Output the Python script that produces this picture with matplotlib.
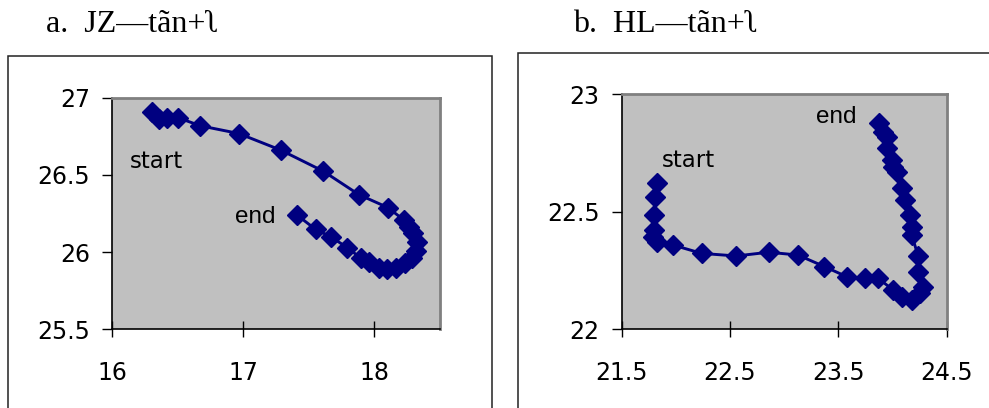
import matplotlib
matplotlib.use("Agg")
import matplotlib.pyplot as plt
from matplotlib.patches import Rectangle

# ---- data ----
jz_x = [16.306, 16.357, 16.420, 16.502, 16.675, 16.968, 17.287, 17.613, 17.885,
        18.107, 18.229, 18.270, 18.300, 18.330, 18.318, 18.290, 18.240, 18.166,
        18.102, 18.038, 17.962, 17.898, 17.796, 17.669, 17.554, 17.414]
jz_y = [26.910, 26.861, 26.871, 26.871, 26.818, 26.768, 26.661, 26.524, 26.372,
        26.288, 26.207, 26.160, 26.125, 26.068, 26.005, 25.960, 25.928, 25.900,
        25.892, 25.896, 25.939, 25.962, 26.029, 26.100, 26.147, 26.239]

hl_x = [21.823, 21.807, 21.798, 21.798, 21.792, 21.829, 21.971, 22.239, 22.558,
        22.857, 23.128, 23.372, 23.578, 23.747, 23.869, 24.008, 24.085, 24.178,
        24.254, 24.285, 24.239, 24.239, 24.178, 24.178, 24.162, 24.116, 24.085,
        24.039, 24.008, 23.993, 23.947, 23.947, 23.916, 23.879]
hl_y = [22.621, 22.564, 22.486, 22.423, 22.394, 22.373, 22.359, 22.323, 22.312,
        22.328, 22.316, 22.267, 22.224, 22.217, 22.217, 22.167, 22.139, 22.125,
        22.153, 22.181, 22.245, 22.312, 22.401, 22.437, 22.486, 22.550, 22.600,
        22.671, 22.692, 22.720, 22.770, 22.820, 22.841, 22.877]

jz_xticks = [16, 17, 18]
jz_yticks = [25.5, 26, 26.5, 27]
jz_xticklabels = ["16", "17", "18"]
jz_yticklabels = ["25.5", "26", "26.5", "27"]
hl_xticks = [21.5, 22.5, 23.5, 24.5]
hl_yticks = [22, 22.5, 23]
hl_xticklabels = ["21.5", "22.5", "23.5", "24.5"]
hl_yticklabels = ["22", "22.5", "23"]

title_a = "a.  JZ\u2014tãn+\u0285"
title_b = "b.  HL\u2014tãn+\u0285"

W, H = 989, 408
fig = plt.figure(figsize=(W / 100, H / 100), dpi=100)
fig.patch.set_facecolor("white")

SANS = ["Liberation Sans", "DejaVu Sans"]
WIDE = ["DejaVu Sans"]
SERIF = ["Liberation Serif", "DejaVu Serif"]
NAVY = "#000080"


def fx(px):
    return px / W


def fy(py):
    return 1 - py / H


# outer chart frames
fig.add_artist(Rectangle((fx(8), fy(470)), fx(492) - fx(8), fy(56) - fy(470),
                         transform=fig.transFigure, fill=False,
                         edgecolor="#222222", linewidth=1.1))
fig.add_artist(Rectangle((fx(518), fy(470)), fx(1100) - fx(518), fy(53) - fy(470),
                         transform=fig.transFigure, fill=False,
                         edgecolor="#222222", linewidth=1.1))

fig.text(fx(46), fy(32), title_a, fontsize=23, family=SERIF, va="baseline")
fig.text(fx(573), fy(32), title_b, fontsize=23, family=SERIF, va="baseline")


def make_axes(rect_px, x, y, xlim, ylim, xt, xtl, yt, ytl, labels):
    x0, x1, ytop, ybot = rect_px
    ax = fig.add_axes([fx(x0), fy(ybot), fx(x1) - fx(x0), fy(ytop) - fy(ybot)])
    ax.set_facecolor("#C0C0C0")
    ax.plot(x, y, color=NAVY, linewidth=2.1, marker="D", markersize=10.3,
            markerfacecolor=NAVY, markeredgecolor=NAVY, zorder=3)
    ax.set_xlim(*xlim)
    ax.set_ylim(*ylim)
    ax.set_xticks(xt)
    ax.set_xticklabels(xtl, family=WIDE, fontsize=17)
    ax.set_yticks(yt)
    ax.set_yticklabels(ytl, family=WIDE, fontsize=17)
    ax.tick_params(axis="x", direction="inout", length=12, width=1.0, pad=17,
                   color="black")
    ax.tick_params(axis="y", direction="out", length=7, width=1.0, pad=9,
                   color="black")
    for s in ("top", "right"):
        ax.spines[s].set_color("#808080")
        ax.spines[s].set_linewidth(2.0)
    for s in ("left", "bottom"):
        ax.spines[s].set_color("black")
        ax.spines[s].set_linewidth(1.2)
    for (tx, ty, s, fam, fs) in labels:
        ax.text(tx, ty, s, family=fam, fontsize=fs, va="baseline",
                ha="left", color="black")
    return ax


make_axes((112, 439.5, 97.7, 329.3), jz_x, jz_y, (16, 18.5), (25.5, 27),
          jz_xticks, jz_xticklabels, jz_yticks, jz_yticklabels,
          [(16.137, 26.545, "start", WIDE, 16.5),
           (16.938, 26.187, "end", SANS, 17.5)])

make_axes((621.7, 946.5, 94.3, 329.3), hl_x, hl_y, (21.5, 24.5), (22, 23),
          hl_xticks, hl_xticklabels, hl_yticks, hl_yticklabels,
          [(21.869, 22.692, "start", WIDE, 16.5),
           (23.294, 22.877, "end", SANS, 17.5)])

fig.savefig("out.png", dpi=100, facecolor="white")
